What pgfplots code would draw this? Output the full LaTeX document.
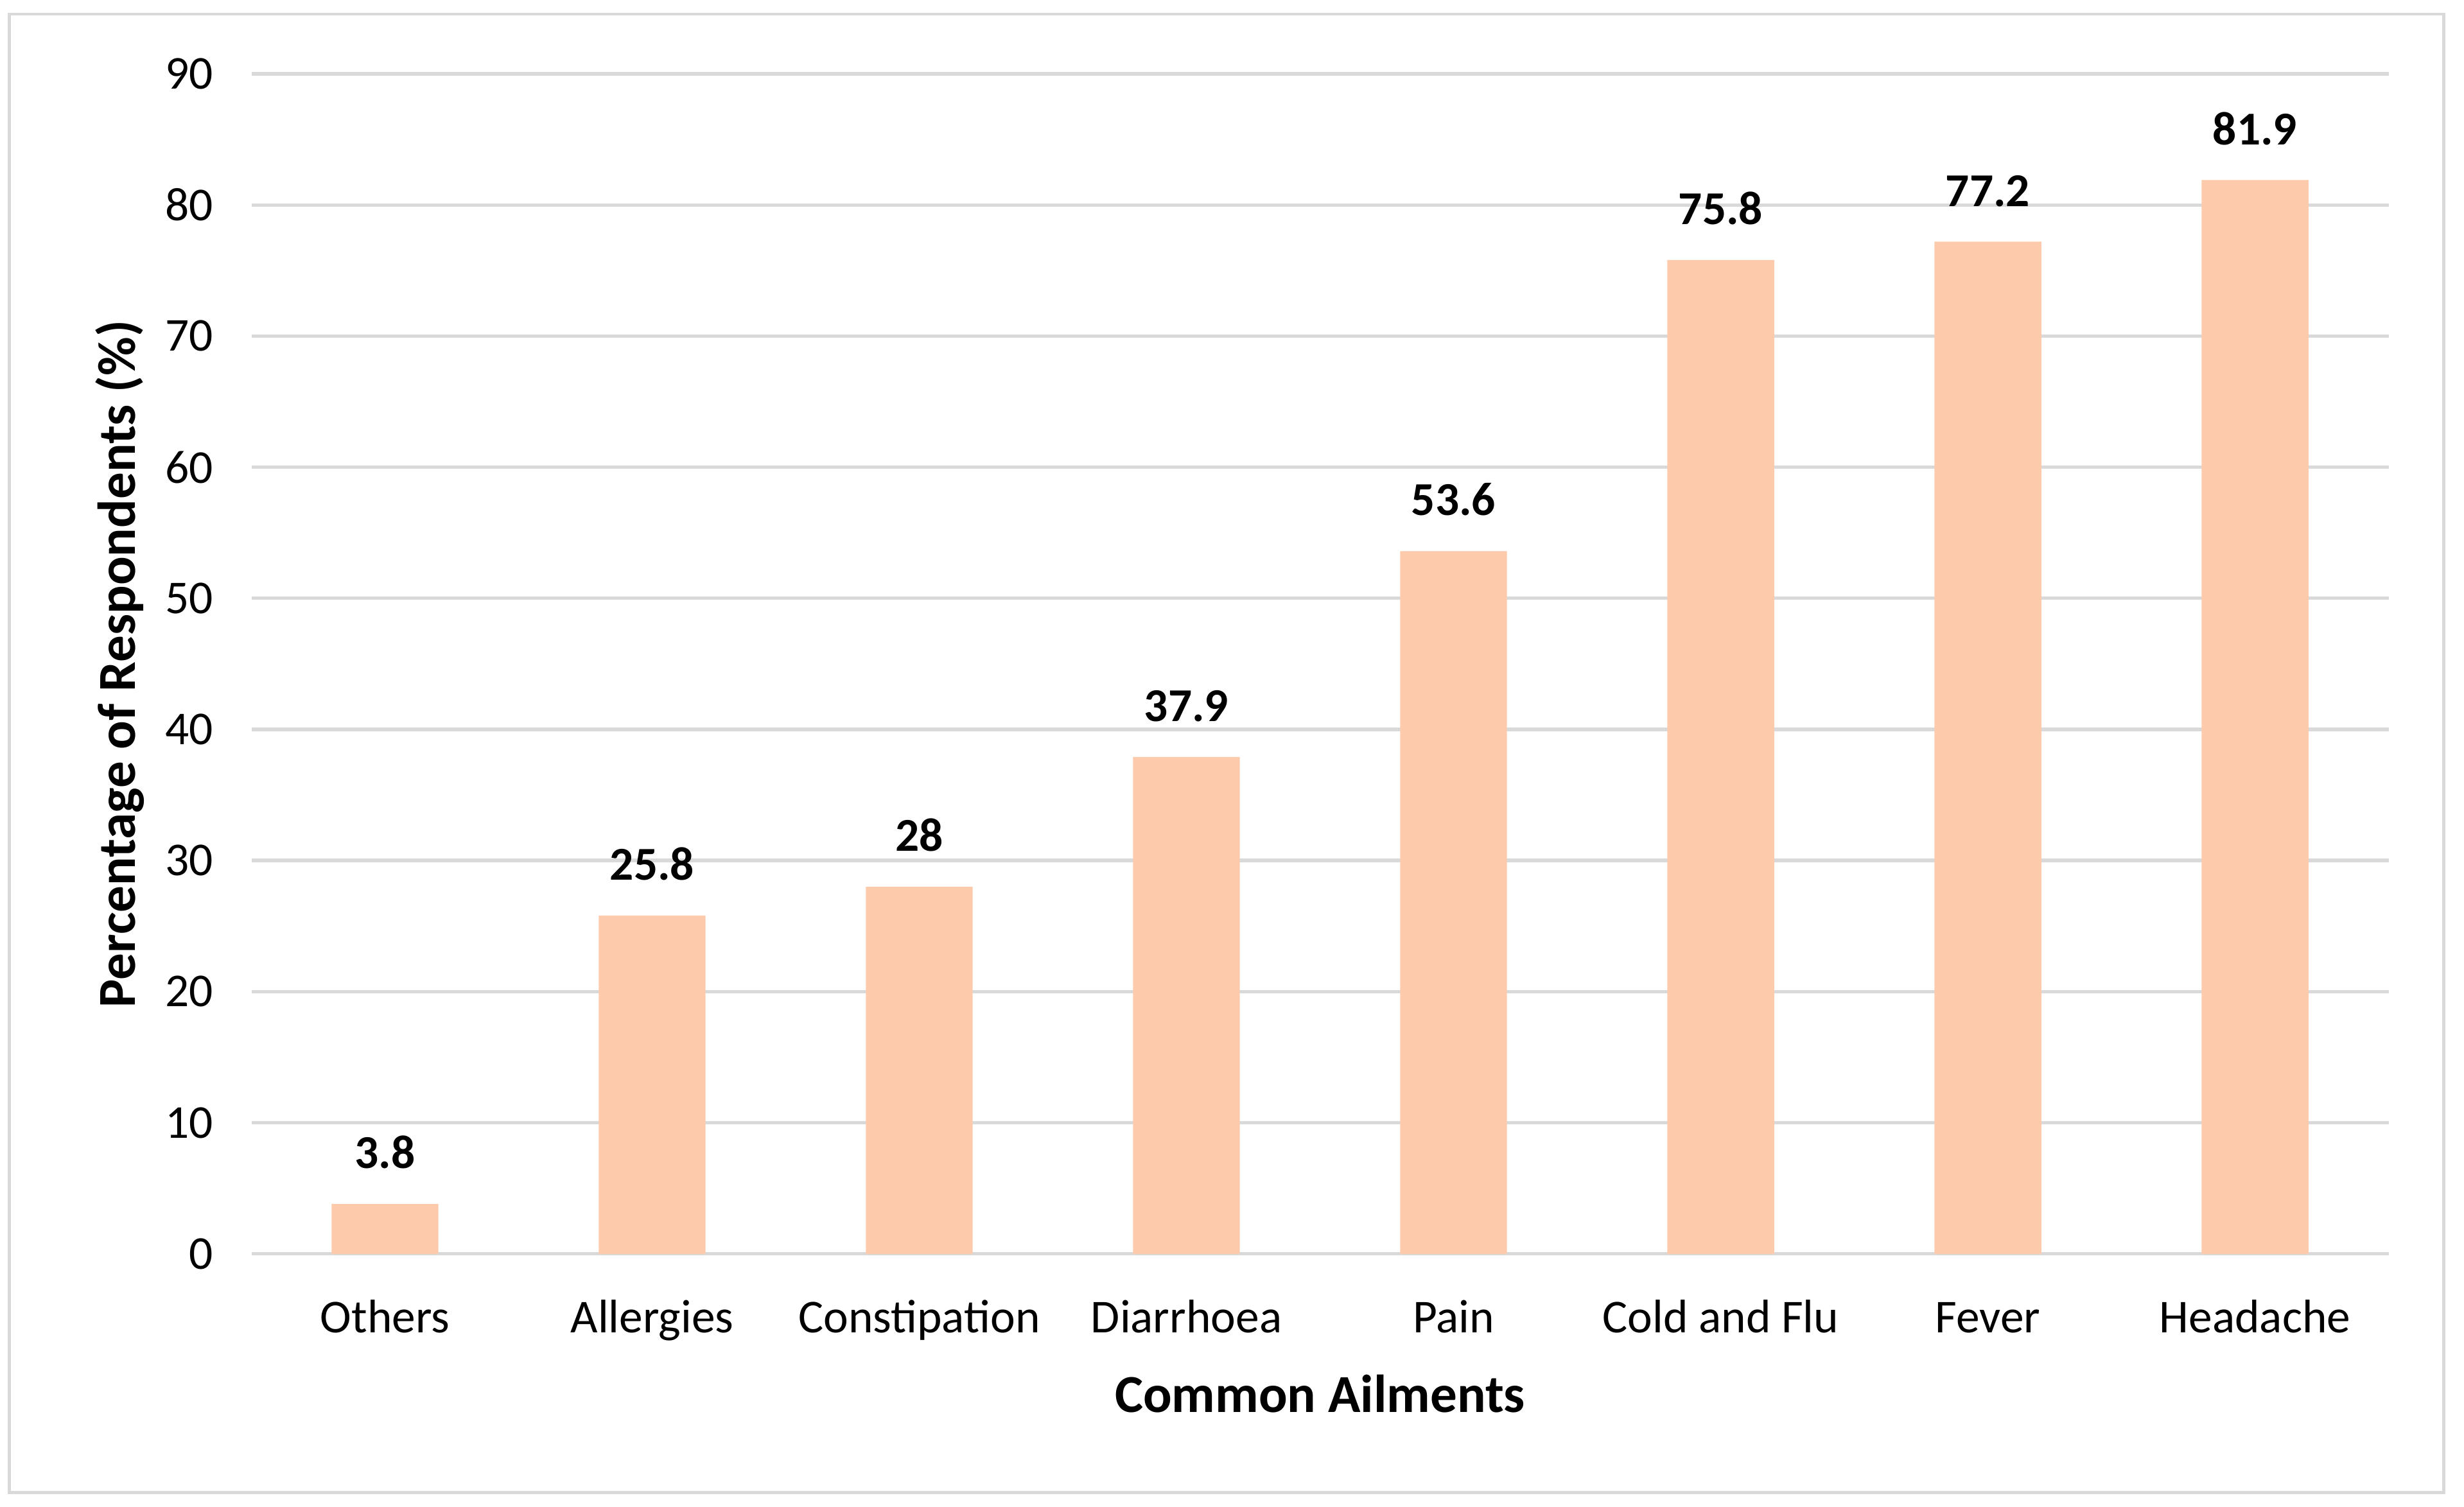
\documentclass[border=0pt]{standalone}
\usepackage{fontspec}
\setmainfont{Carlito}
\usepackage{pgfplots}
\pgfplotsset{compat=1.18}
\definecolor{barpeach}{HTML}{FDCBAB}
\definecolor{gridgray}{HTML}{D9D9D9}
\begin{document}
\begin{tikzpicture}
\useasboundingbox (0,0) rectangle (784pt,479.5pt);
\draw[gridgray, line width=1pt] (3pt,4.5pt) rectangle (777.5pt,475pt);
\begin{axis}[
  at={(80pt,80.5pt)}, anchor=south west,
  scale only axis, width=680pt, height=375.5pt,
  ybar, bar width=34pt,
  xmin=-0.5, xmax=7.5, ymin=0, ymax=90,
  xtick=data,
  xticklabels={Others,Allergies,Constipation,Diarrhoea,Pain,Cold and Flu,Fever,Headache},
  ytick={0,10,...,90},
  axis line style={draw=none},
  major tick length=0pt,
  ymajorgrids, grid style={gridgray, line width=1.1pt},
  /pgf/number format/assume math mode=true,
  ticklabel style={font=\fontsize{15}{18}\selectfont, inner sep=0pt},
  yticklabel style={anchor=east, xshift=-12pt},
  xticklabel style={anchor=base, yshift=-25pt},
  xlabel={Common Ailments},
  xlabel style={at={(axis description cs:0.5,-0.1345)}, anchor=base, inner sep=0pt,
    font=\fontsize{17}{20}\selectfont\bfseries},
  ylabel={Percentage of Respondents (\%)},
  ylabel style={at={(axis description cs:-0.0544,0.5)}, anchor=base, inner sep=0pt,
    font=\fontsize{17}{20}\selectfont\bfseries},
  nodes near coords,
  every node near coord/.append style={font=\fontsize{15}{18}\selectfont\bfseries,
    inner sep=0pt, yshift=11pt, black},
]
\addplot[fill=barpeach, draw=none] coordinates {
  (0,3.8) (1,25.8) (2,28) (3,37.9) (4,53.6) (5,75.8) (6,77.2) (7,81.9)
};
\end{axis}
\end{tikzpicture}
\end{document}
